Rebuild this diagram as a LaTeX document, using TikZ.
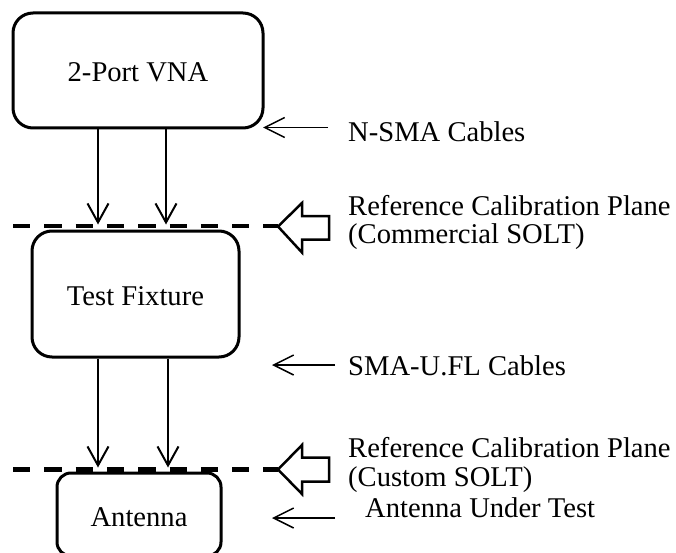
\documentclass[tikz,border=0pt]{standalone}
\usepackage{fontspec}
\setmainfont{Liberation Serif}
\usetikzlibrary{arrows.meta}

\begin{document}
\begin{tikzpicture}[x=1pt,y=-1pt,
  every node/.style={font=\fontsize{28.6}{29}\selectfont},
  blockbox/.style={draw,line width=3pt,rounded corners=20pt,inner sep=0pt,
    text height=23pt,text depth=0pt},
  conn/.style={line width=2pt,-{Straight Barb[length=19pt,width=21pt]}},
  pointer/.style={line width=1.5pt,-{Straight Barb[length=20pt,width=20pt]}},
  plane/.style={line width=4.5pt,dash pattern=on 17.3pt off 14pt},
  planearrow/.style={draw,line width=2.5pt,fill=white,line join=miter},
  caption/.style={anchor=base west,inner sep=0pt}]
\useasboundingbox (0,0) rectangle (676,553);

% instrument, fixture and antenna
\node[blockbox,minimum width=250pt,minimum height=115pt] (vna) at (138,70.5) {2-Port VNA};
\node[blockbox,minimum width=207pt,minimum height=126pt] (fix) at (135.5,294) {Test Fixture};
\node[blockbox,rounded corners=14pt,minimum width=164pt,minimum height=83pt] (ant) at (139,514.5) {Antenna};

% cables between the blocks
\coordinate (c1) at ([xshift=-40pt]vna.south);
\coordinate (c2) at ([xshift=28pt]vna.south);
\coordinate (c3) at ([xshift=-37.5pt]fix.south);
\coordinate (c4) at ([xshift=32.5pt]fix.south);
\draw[conn,shorten >=5pt] (c1) -- (c1 |- fix.north);
\draw[conn,shorten >=5pt] (c2) -- (c2 |- fix.north);
\draw[conn,shorten >=4pt] (c3) -- (c3 |- ant.north);
\draw[conn,shorten >=4pt] (c4) -- (c4 |- ant.north);

% calibration planes
\draw[plane] (13,226) -- (278,226);
\draw[plane] (13,469.5) -- (278,469.5);
\draw[planearrow] (278,226.5) -- (302,203) -- (302,216) -- (329,216) -- (329,239.5)
  -- (302,239.5) -- (302,252.5) -- cycle;
\draw[planearrow] (278,469.5) -- (302,445) -- (302,457.5) -- (329,457.5) -- (329,481.5)
  -- (302,481.5) -- (302,494) -- cycle;

% labels
\node[caption] (nsma) at (348,142) {N-SMA Cables};
\node[caption] (refa1) at (348,215.5) {Reference Calibration Plane};
\node[caption] (refa2) at (348,243) {(Commercial SOLT)};
\node[caption] (smaufl) at (348,375) {SMA-U.FL Cables};
\node[caption] (refb1) at (348,457) {Reference Calibration Plane};
\node[caption] (refb2) at (348,486) {(Custom SOLT)};
\node[caption] (aut) at (365,517) {Antenna Under Test};

% pointers to the labelled items
\coordinate (p1s) at (328,127.5); \coordinate (p1e) at (263,127.5);
\coordinate (p2s) at (335,365);   \coordinate (p2e) at (272,365);
\coordinate (p3s) at (335,518);   \coordinate (p3e) at (272,518);
\draw[pointer] (p1s) -- (p1e);
\draw[pointer] (p2s) -- (p2e);
\draw[pointer] (p3s) -- (p3e);
\end{tikzpicture}
\end{document}
